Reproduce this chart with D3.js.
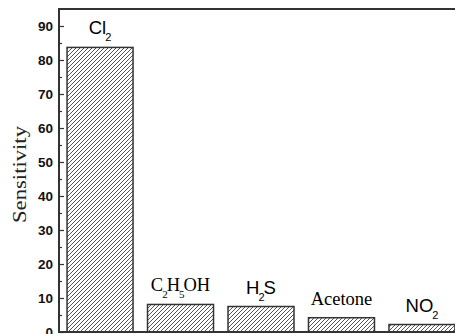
<!DOCTYPE html>
<html>
<head>
<meta charset="utf-8">
<script src="https://cdn.jsdelivr.net/npm/d3@7"></script>
<style>
  body { margin: 0; background: #fff; }
  svg { display: block; }
</style>
</head>
<body>
<script>
const gases = ["Cl2", "C2H5OH", "H2S", "Acetone", "NO2"]
const sensitivity = [83.7, 8.1, 7.5, 4.2, 2.2]
const majorTicks = [0, 10, 20, 30, 40, 50, 60, 70, 80, 90]
const minorTicks = [5, 15, 25, 35, 45, 55, 65, 75, 85]
const yTitle = "Sensitivity"

const width = 455, height = 334
const plot = {left: 59, top: 9, bottom: 332, right: 463}

// labels drawn in a serif face in the original figure
const serifLabels = ["C2H5OH", "Acetone"]

const svg = d3.select('body').append('svg')
  .attr('width', width)
  .attr('height', height)

const defs = svg.append('defs')
defs.append('pattern')
  .attr('id', 'hatch')
  .attr('patternUnits', 'userSpaceOnUse')
  .attr('width', 4)
  .attr('height', 4)
  .append('path')
    .attr('d', 'M-1,1 l2,-2 M0,4 l4,-4 M3,5 l2,-2')
    .attr('stroke', '#555')
    .attr('stroke-width', 1)

const x = d3.scaleBand()
  .domain(gases)
  .range([plot.left, plot.right])
  .paddingInner(0.18)
  .paddingOuter(0.1)

const y = d3.scaleLinear()
  .domain([0, 95])
  .range([plot.bottom, plot.top])

// bars
svg.selectAll('.bar')
  .data(gases)
  .enter().append('rect')
    .attr('class', 'bar')
    .attr('x', d => x(d))
    .attr('y', (d, i) => y(sensitivity[i]))
    .attr('width', x.bandwidth())
    .attr('height', (d, i) => y(0) - y(sensitivity[i]))
    .attr('fill', 'url(#hatch)')
    .attr('stroke', '#333')
    .attr('stroke-width', 1.5)

// frame
svg.append('rect')
  .attr('x', plot.left)
  .attr('y', plot.top)
  .attr('width', plot.right + 20 - plot.left)
  .attr('height', plot.bottom - plot.top)
  .attr('fill', 'none')
  .attr('stroke', '#333')
  .attr('stroke-width', 2)

// y axis, ticks pointing inward
const yAxis = svg.append('g')
  .attr('transform', `translate(${plot.left},0)`)
  .call(d3.axisLeft(y).tickValues(majorTicks).tickSize(-5).tickPadding(6))
yAxis.select('.domain').remove()
yAxis.selectAll('.tick line').attr('stroke', '#333').attr('stroke-width', 1.2)
yAxis.selectAll('text')
  .attr('font-family', 'Liberation Sans, Arial, sans-serif')
  .attr('font-weight', 'bold')
  .attr('font-size', 13.5)
  .attr('fill', '#111')

const yMinor = svg.append('g')
  .attr('transform', `translate(${plot.left},0)`)
  .call(d3.axisLeft(y).tickValues(minorTicks).tickSize(-3).tickFormat(''))
yMinor.select('.domain').remove()
yMinor.selectAll('.tick line').attr('stroke', '#333').attr('stroke-width', 1.2)

// axis title
svg.append('text')
  .attr('transform', `translate(26,${(plot.top + plot.bottom) / 2 + 4}) rotate(-90)`)
  .attr('text-anchor', 'middle')
  .attr('font-family', 'Liberation Serif, Times New Roman, serif')
  .attr('font-size', 18)
  .attr('textLength', 97)
  .attr('lengthAdjust', 'spacingAndGlyphs')
  .attr('fill', '#222')
  .text(yTitle)

// bar labels with chemical subscripts
const labels = svg.selectAll('.label')
  .data(gases)
  .enter().append('text')
    .attr('class', 'label')
    .attr('x', d => x(d) + x.bandwidth() / 2)
    .attr('y', (d, i) => y(sensitivity[i]) - 13)
    .attr('text-anchor', 'middle')
    .attr('fill', '#000')
    .attr('font-size', 18.5)
    .attr('font-family', d => serifLabels.includes(d)
      ? 'Liberation Serif, Times New Roman, serif'
      : 'Liberation Sans, Arial, sans-serif')

labels.each(function(d) {
  const t = d3.select(this)
  const parts = d.match(/\d+|\D+/g)
  parts.forEach((p, i) => {
    const isNum = /\d/.test(p)
    const span = t.append('tspan').text(p)
    if (isNum) span.attr('dy', 7).attr('dx', -1).attr('font-size', 11)
    else if (i > 0) span.attr('dy', -7).attr('dx', -1)
  })
})
</script>
</body>
</html>
